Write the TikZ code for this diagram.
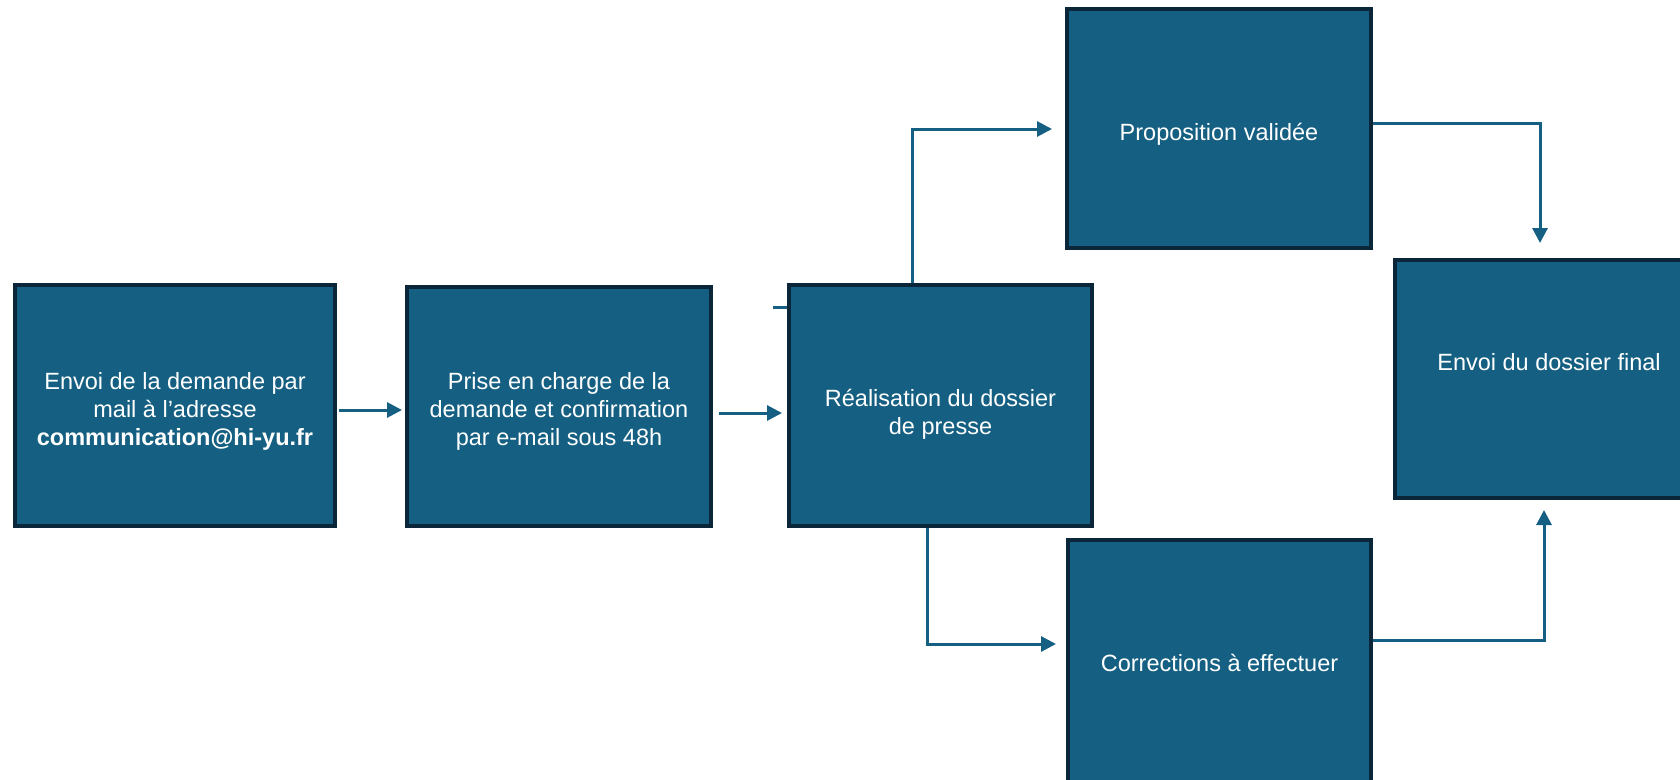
\documentclass[tikz,border=0pt]{standalone}
\usepackage{fontspec}
\setmainfont{Liberation Sans}
\usetikzlibrary{arrows.meta}
\definecolor{boxfill}{HTML}{156082}
\definecolor{boxedge}{HTML}{0B2638}
\definecolor{conncol}{HTML}{156082}
\tikzset{
  stepbox/.style={draw=boxedge, fill=boxfill, line width=4pt, inner sep=0pt},
  boxtext/.style={text=white, font=\fontsize{23.5}{28}\selectfont, align=center, inner sep=0pt},
  conn/.style={draw=conncol, line width=3pt},
  arr/.style={conn, -{Triangle[length=15pt,width=15pt]}},
}
\begin{document}
\begin{tikzpicture}[x=1pt,y=-1pt]
\path[use as bounding box, clip] (0,0) rectangle (1680,779);

\node[stepbox, minimum width=320pt, minimum height=241pt,
  label={[boxtext, yshift=-6pt]center:{Envoi de la demande par\\mail à l’adresse\\\textbf{communication@hi-yu.fr}}}] (b1) at (175,405.5) {};
\node[stepbox, minimum width=304pt, minimum height=239pt,
  label={[boxtext, yshift=-5pt]center:{Prise en charge de la\\demande et confirmation\\par e-mail sous 48h}}] (b2) at (559,406.5) {};
\node[stepbox, minimum width=303pt, minimum height=241pt,
  label={[boxtext, yshift=-9pt]center:{Réalisation du dossier\\de presse}}] (b3) at (940.5,405.5) {};
\node[stepbox, minimum width=304pt, minimum height=239pt,
  label={[boxtext, yshift=-6pt]center:{Proposition validée}}] (b4) at (1219,128.5) {};
\node[stepbox, minimum width=308pt, minimum height=238pt,
  label={[boxtext, yshift=17pt]center:{Envoi du dossier final}}] (b5) at (1549,379) {};
\node[stepbox, minimum width=303pt, minimum height=246pt,
  label={[boxtext]center:{Corrections à effectuer}}] (b6) at (1219.5,663) {};

\draw[arr] ([shift={(2,4.5)}]b1.east) -- ([shift={(-3,3.5)}]b2.west);
\draw[arr] ([shift={(6,6.5)}]b2.east) -- ([shift={(-5,7.5)}]b3.west);
\draw[conn] ([shift={(-14,-98.5)}]b3.west) -- ([shift={(0,-98.5)}]b3.west);
\draw[arr] ([shift={(-28.5,0)}]b3.north) |- ([shift={(-13,0.5)}]b4.west);
\draw[arr] ([shift={(0,-5.5)}]b4.east) -| ([shift={(-9,-15)}]b5.north);
\draw[arr] ([shift={(-13.5,0)}]b3.south) |- ([shift={(-10,-19)}]b6.west);
\draw[arr] ([shift={(0,-23)}]b6.east) -| ([shift={(-5,10)}]b5.south);
\end{tikzpicture}
\end{document}
